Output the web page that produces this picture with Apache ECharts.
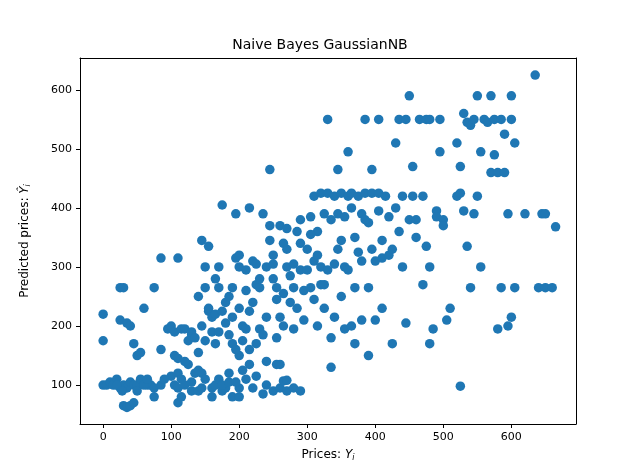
<!DOCTYPE html>
<html>
<head>
<meta charset="utf-8">
<script src="https://cdn.jsdelivr.net/npm/echarts@6/dist/echarts.min.js"></script>
<style>html,body{margin:0;padding:0;background:#fff;}#chart{width:640px;height:476px;}</style>
</head>
<body>
<div id="chart"></div>
<script>
// axis ticks
var xTicks = [0, 100, 200, 300, 400, 500, 600];
var yTicks = [100, 200, 300, 400, 500, 600];

var lowPoints = [[0,100],[5,100],[10,105],[15,100],[20,110],[25,95],[30,100],[35,95],[40,105],[45,100],[50,100],[60,105],[65,100],[70,100],[75,95],[85,100],[105,100],[110,95],[120,100],[130,90],[140,90],[145,95],[160,95],[165,100],[175,90],[180,95],[200,95],[220,95],[240,100],[250,90],[260,95],[270,90],[280,95],[290,90],[525,98],
  [30,65],[35,62],[40,65],[45,70],[75,80],[110,70],[115,80],[160,80],[190,80],[200,80],[235,85],
  [20,100],[28,90],[50,90],[55,110],[100,115],[110,120],[115,110],[130,105],[140,125],[145,120],[170,110],[175,100],[185,105],[195,105],[210,110],[225,115],[60,100],[65,110],[150,110],[90,110],
  [255,135],[265,107],[270,108],[215,135]];
var midPoints = [[0,175],[0,220],[25,265],[30,265],[85,315],[110,315],
  [25,210],[35,205],[40,200],[45,170],[50,150],[55,155],[60,230],[75,265],[85,160],[95,195],[100,200],[105,190],[105,150],[110,145],[115,195],[120,195],[125,175],[125,135],[130,185],[135,120],[140,155],[140,250],[145,345],[150,265],[150,300],[155,225],[155,335],[160,215],[160,190],[165,280],[165,170],[170,265],[170,300],[175,405],[180,240],[180,205],[185,185],[185,120],[190,265],[190,170],[195,390],[195,315],[200,320],[200,300],[200,230],[200,150],[205,200],[205,125],[210,295],[210,260],[215,400],[215,160],[220,310],[220,240],[225,305],[225,270],[225,170],[230,265],[230,195],[235,390],[235,185],[240,300],[240,140],[245,465],[245,370],[245,345],[250,320],[250,280],[255,265],[255,245],[260,370],[260,215],[260,135],[265,340],[265,200],[270,365],[270,330],[270,300],[275,285],[275,240],[280,305],[280,265],[280,195],[285,360],[285,230],[290,380],[290,340],[290,295],[295,260],[295,210],[155,230],[165,220],[130,190],[135,180],[120,140],
  [175,225],[185,250],[190,215],[205,175],[210,195],[230,280],[250,305],[265,255],[145,200],[150,175],[170,190],[195,160],[215,225],[240,215],[255,180]];
var highPoints = [[300,330],[300,295],[305,385],[305,265],[310,420],[310,310],[310,245],[315,360],[315,200],[320,425],[320,300],[320,270],[325,390],[325,230],[330,550],[330,425],[330,295],[335,380],[335,180],[335,130],[340,420],[340,305],[340,215],[345,465],[345,390],[350,425],[350,345],[350,250],[355,300],[355,195],[360,495],[360,420],[360,295],[365,425],[365,400],[365,200],[370,350],[370,265],[370,170],[375,420],[375,325],[380,390],[380,310],[380,210],[385,550],[385,425],[390,375],[390,265],[390,150],[395,465],[395,425],[400,310],[400,210],[405,550],[405,425],[410,345],[410,315],[410,230],[415,420],[420,385],[420,320],[425,330],[425,170],[430,510],[430,400],[435,550],[435,360],[440,420],[440,300],[445,550],[445,205],[450,590],[450,380],[455,470],[455,420],[460,380],[460,350],[465,550],[470,420],[470,270],[475,550],[475,335],[480,550],[480,300],[480,170],[485,195],[490,395],[490,385],[495,550],[495,495],[500,380],[500,370],[505,210],[510,230],[520,510],[520,420],[525,470],[525,425],[530,560],[530,395],[535,545],[535,335],[540,540],[540,265],[545,550],[545,390],[550,590],[550,420],[555,495],[555,300],[560,550],[565,545],[570,590],[570,460],[575,550],[575,490],[580,195],[580,460],[585,550],[585,265],[590,525],[590,460],[595,390],[595,200],[600,590],[600,550],[600,215],[605,510],[605,265],[620,390],[635,625],[640,265],[645,390],[650,390],[650,265],[660,265],[665,368],
  [305,355],[315,320],[325,270],[345,330],[355,385],[385,380],[395,330],[405,395]];

var allPoints = lowPoints.concat(midPoints, highPoints);

var labelFont = {fontFamily: 'DejaVu Sans', fontSize: 12, color: '#000'};
function nameRich() {
    return {rich: {
        n: labelFont,
        v: {fontFamily: 'DejaVu Sans', fontSize: 12, fontStyle: 'italic', color: '#000'},
        s: {fontFamily: 'DejaVu Sans', fontSize: 8, fontStyle: 'italic', color: '#000', verticalAlign: 'bottom', padding: [6, 0, 0, 0]}
    }};
}

var chart = echarts.init(document.getElementById('chart'));
var option = {
    animation: false,
    title: {
        text: 'Naive Bayes GaussianNB',
        left: 'center', top: 33,
        textStyle: {fontFamily: 'DejaVu Sans', fontSize: 14, fontWeight: 'normal', color: '#000'}
    },
    grid: {left: 80, right: 64, top: 58, bottom: 52},
    xAxis: [{
        type: 'value', min: -34, max: 695,
        name: '{n|Prices: }{v|Y}{s|i}', nameLocation: 'middle', nameGap: 24,
        nameTextStyle: nameRich(),
        splitLine: {show: false},
        axisLine: {onZero: false, lineStyle: {color: '#000'}},
        axisTick: {length: 4, customValues: xTicks, lineStyle: {color: '#000'}},
        axisLabel: {customValues: xTicks, color: '#000', fontFamily: 'DejaVu Sans', fontSize: 11}
    }, {
        type: 'value', min: -34, max: 695, position: 'top',
        splitLine: {show: false}, axisTick: {show: false}, axisLabel: {show: false},
        axisLine: {onZero: false, lineStyle: {color: '#000'}}
    }],
    yAxis: [{
        type: 'value', min: 34, max: 654,
        name: '{n|Predicted prices: }{v|Ŷ}{s|i}', nameLocation: 'middle', nameGap: 48,
        nameTextStyle: nameRich(),
        splitLine: {show: false},
        axisLine: {show: true, onZero: false, lineStyle: {color: '#000'}},
        axisTick: {show: true, length: 4, customValues: yTicks, lineStyle: {color: '#000'}},
        axisLabel: {customValues: yTicks, color: '#000', fontFamily: 'DejaVu Sans', fontSize: 11}
    }, {
        type: 'value', min: 34, max: 654, position: 'right',
        splitLine: {show: false}, axisTick: {show: false}, axisLabel: {show: false},
        axisLine: {show: true, onZero: false, lineStyle: {color: '#000'}}
    }],
    series: [{
        type: 'scatter',
        symbolSize: 9.5,
        itemStyle: {color: '#1f77b4', opacity: 1},
        data: allPoints
    }]
};
chart.setOption(option);
</script>
</body>
</html>
